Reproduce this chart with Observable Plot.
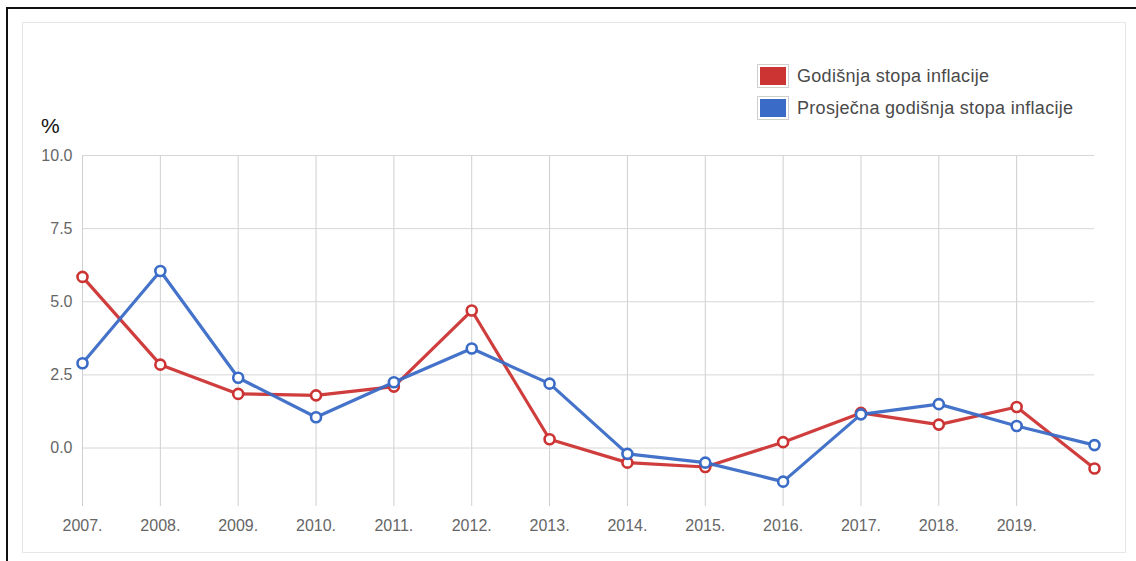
<!DOCTYPE html>
<html>
<head>
<meta charset="utf-8">
<script src="https://cdn.jsdelivr.net/npm/d3@7"></script>
<script src="https://cdn.jsdelivr.net/npm/@observablehq/plot@0.6"></script>
<style>
  html, body { margin: 0; padding: 0; background: #fff; }
  #wrap { position: relative; width: 1136px; height: 561px; overflow: hidden; font-family: "Liberation Sans", Arial, sans-serif; }
  #outer { position: absolute; left: 6px; top: 7px; width: 1200px; height: 600px; border-left: 2px solid #111; border-top: 2px solid #111; box-sizing: border-box; }
  #inner { position: absolute; left: 22px; top: 22px; width: 1104px; height: 531px; border: 1px solid #e4e6ea; box-sizing: border-box; }
  #chart { position: absolute; left: 0; top: 0; }
  #unit { position: absolute; left: 41px; top: 114px; font-size: 21px; line-height: 24px; color: #111; }
  #legend { position: absolute; left: 757px; top: 64px; }
  .row { display: flex; align-items: center; height: 24px; margin-bottom: 8px; }
  .sw { width: 32px; height: 24px; border: 1px solid #cfcfcf; box-sizing: border-box; padding: 2px; margin-right: 8px; }
  .sw div { width: 100%; height: 100%; }
  .lbl { font-size: 18px; color: #4a4a4a; letter-spacing: 0.3px; }
</style>
</head>
<body>
<div id="wrap">
  <div id="outer"></div>
  <div id="inner"></div>
  <div id="chart"></div>
  <div id="unit">%</div>
  <div id="legend"></div>
</div>
<script>
// ---- data ----
const years = [2007, 2008, 2009, 2010, 2011, 2012, 2013, 2014, 2015, 2016, 2017, 2018, 2019, 2020];
const annualRate = [5.85, 2.85, 1.85, 1.8, 2.1, 4.7, 0.3, -0.5, -0.65, 0.2, 1.2, 0.8, 1.4, -0.7];
const averageRate = [2.9, 6.05, 2.4, 1.05, 2.25, 3.4, 2.2, -0.2, -0.5, -1.15, 1.15, 1.5, 0.75, 0.1];
const seriesNames = ["Godišnja stopa inflacije", "Prosječna godišnja stopa inflacije"];
const seriesColors = ["#cc3333", "#3a6bc6"];
const xTickYears = [2007, 2008, 2009, 2010, 2011, 2012, 2013, 2014, 2015, 2016, 2017, 2018, 2019];
const yTicks = [0, 2.5, 5, 7.5, 10];
const unitLabel = "%";

const seriesValues = [annualRate, averageRate];
const rows = seriesNames.map((name, s) =>
  years.map((year, i) => ({ year, value: seriesValues[s][i], series: name }))
);

const marks = [
  Plot.gridX(xTickYears, { stroke: "#cfcfcf", strokeOpacity: 1 }),
  Plot.gridY(yTicks, { stroke: "#d6d6d6", strokeOpacity: 1 })
];
rows.forEach((r, s) => {
  marks.push(Plot.line(r, { x: "year", y: "value", stroke: seriesColors[s], strokeWidth: 3.2, strokeOpacity: 0.95 }));
  marks.push(Plot.dot(r, { x: "year", y: "value", stroke: seriesColors[s], fill: "white", r: 5, strokeWidth: 2.6 }));
});

const chart = Plot.plot({
  width: 1136,
  height: 561,
  marginLeft: 82,
  marginRight: 42,
  marginTop: 155,
  marginBottom: 55,
  style: { fontFamily: "'Liberation Sans', Arial, sans-serif", fontSize: "16px", color: "#666", background: "transparent", overflow: "visible" },
  x: { domain: [2007, 2020], ticks: xTickYears, tickFormat: d => `${d}.`, tickSize: 0, tickPadding: 13, label: null },
  y: { domain: [-2, 10], ticks: yTicks, tickFormat: d => d.toFixed(1), tickSize: 0, tickPadding: 10, label: null },
  marks
});
document.getElementById("chart").appendChild(chart);
document.getElementById("unit").textContent = unitLabel;

const legend = document.getElementById("legend");
seriesNames.forEach((name, s) => {
  const row = document.createElement("div");
  row.className = "row";
  const sw = document.createElement("div");
  sw.className = "sw";
  const fill = document.createElement("div");
  fill.style.background = seriesColors[s];
  sw.appendChild(fill);
  const lbl = document.createElement("span");
  lbl.className = "lbl";
  lbl.textContent = name;
  row.appendChild(sw);
  row.appendChild(lbl);
  legend.appendChild(row);
});
</script>
</body>
</html>
